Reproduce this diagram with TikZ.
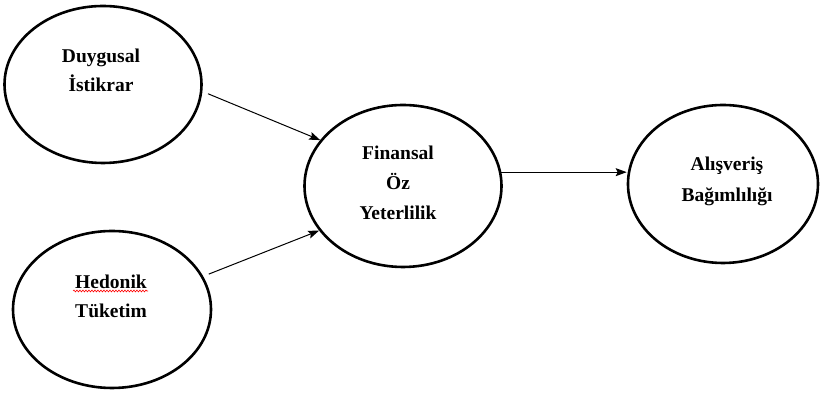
\documentclass[tikz,border=0pt]{standalone}
\usepackage{fontspec}
\setmainfont{Liberation Serif}
\usetikzlibrary{shapes.geometric,arrows.meta,decorations.pathmorphing}
\begin{document}
\begin{tikzpicture}[x=1pt,y=1pt,
  oval/.style={draw=black,ellipse,line width=2.6pt,inner sep=0pt},
  lbl/.style={font=\fontsize{19.5}{29}\selectfont\bfseries,align=center,anchor=base,inner sep=0pt},
  arr/.style={line width=1pt,-{Stealth[length=11pt,width=8pt,inset=2pt]}}]
\useasboundingbox (0,0) rectangle (823,395);
\node[oval,minimum width=197pt,minimum height=157pt] (e1) at (103,310.5) {};
\node[oval,minimum width=198pt,minimum height=157pt] (e2) at (112,85.5) {};
\node[oval,minimum width=197pt,minimum height=162pt] (e3) at (403,209) {};
\node[oval,minimum width=190pt,minimum height=158pt] (e4) at (723,211) {};
\node[lbl] (t1) at (101,303) {Duygusal\\İstikrar};
\node[lbl] (t2) at (111,77) {Hedonik\\Tüketim};
\node[lbl,font=\fontsize{19.5}{30}\selectfont\bfseries] (t3) at (398,175) {Finansal\\Öz\\Yeterlilik};
\node[lbl,font=\fontsize{19.5}{31}\selectfont\bfseries] (t4) at (727,193) {Alışveriş\\Bağımlılığı};
\coordinate (w1) at (73,104);
\coordinate (w2) at (148,104);
\draw[red,line width=0.6pt,decorate,decoration={snake,amplitude=0.9pt,segment length=3pt}] (w1) -- (w2);
\draw[arr,shorten <=6pt] (e1.-4) -- (e3.151);
\draw[arr,shorten <=6pt] (e2.20) -- (e3.208);
\draw[arr] (e3.8) -- (e3.8 -| e4.west);
\end{tikzpicture}
\end{document}
